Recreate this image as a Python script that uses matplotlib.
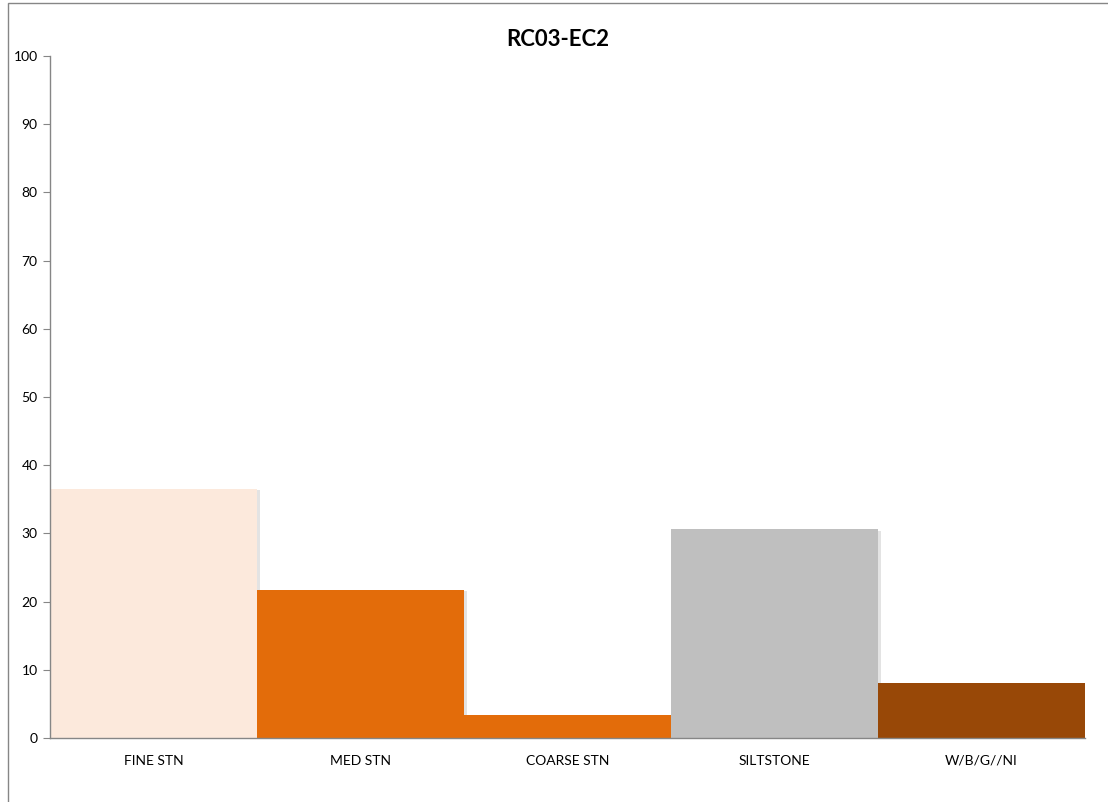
import matplotlib
matplotlib.use("Agg")
import matplotlib.pyplot as plt
from matplotlib.patches import Rectangle
import matplotlib.patheffects as pe

categories = ["FINE STN", "MED STN", "COARSE STN", "SILTSTONE", "W/B/G//NI"]
values = [36.5, 21.7, 3.4, 30.6, 8.1]
colors = ["#FCE9DC", "#E36C0A", "#E36C0A", "#BFBFBF", "#984807"]
yticks = [0, 10, 20, 30, 40, 50, 60, 70, 80, 90, 100]
title = "RC03-EC2"

plt.rcParams['font.family'] = ['Lato', 'DejaVu Sans']

W, H = 1108, 802
fig = plt.figure(figsize=(W / 100, H / 100), dpi=100)
ax = fig.add_axes([50 / W, (H - 738) / H, 1035 / W, (738 - 56) / H])

x = list(range(len(categories)))
bars = ax.bar(x, values, width=1.0, color=colors, edgecolor="none", zorder=2)
for b in bars:
    b.set_path_effects([pe.SimplePatchShadow(offset=(2, -1), shadow_rgbFace="#b0b0b0", alpha=0.35), pe.Normal()])

ax.set_xlim(-0.5, len(categories) - 0.5)
ax.set_ylim(0, 100)
ax.set_yticks(yticks)
ax.set_yticklabels([str(v) for v in yticks], fontsize=10)
ax.set_xticks(x)
ax.set_xticklabels(categories, fontsize=10)

for s in ["top", "right"]:
    ax.spines[s].set_visible(False)
for s in ["left", "bottom"]:
    ax.spines[s].set_color("#868686")
    ax.spines[s].set_linewidth(1.0)
ax.tick_params(axis="y", length=5, color="#868686", pad=4)
ax.tick_params(axis="x", length=0, pad=12)

fig.text(558 / W, 1 - 40 / H, title, ha="center", va="center", fontsize=16, fontweight="bold")

frame = Rectangle((8 / W, -0.01), 1.1, 1 - 3 / H + 0.01, transform=fig.transFigure,
                  fill=False, edgecolor="#868686", linewidth=1.0)
fig.patches.append(frame)

fig.savefig("out.png", dpi=100)
